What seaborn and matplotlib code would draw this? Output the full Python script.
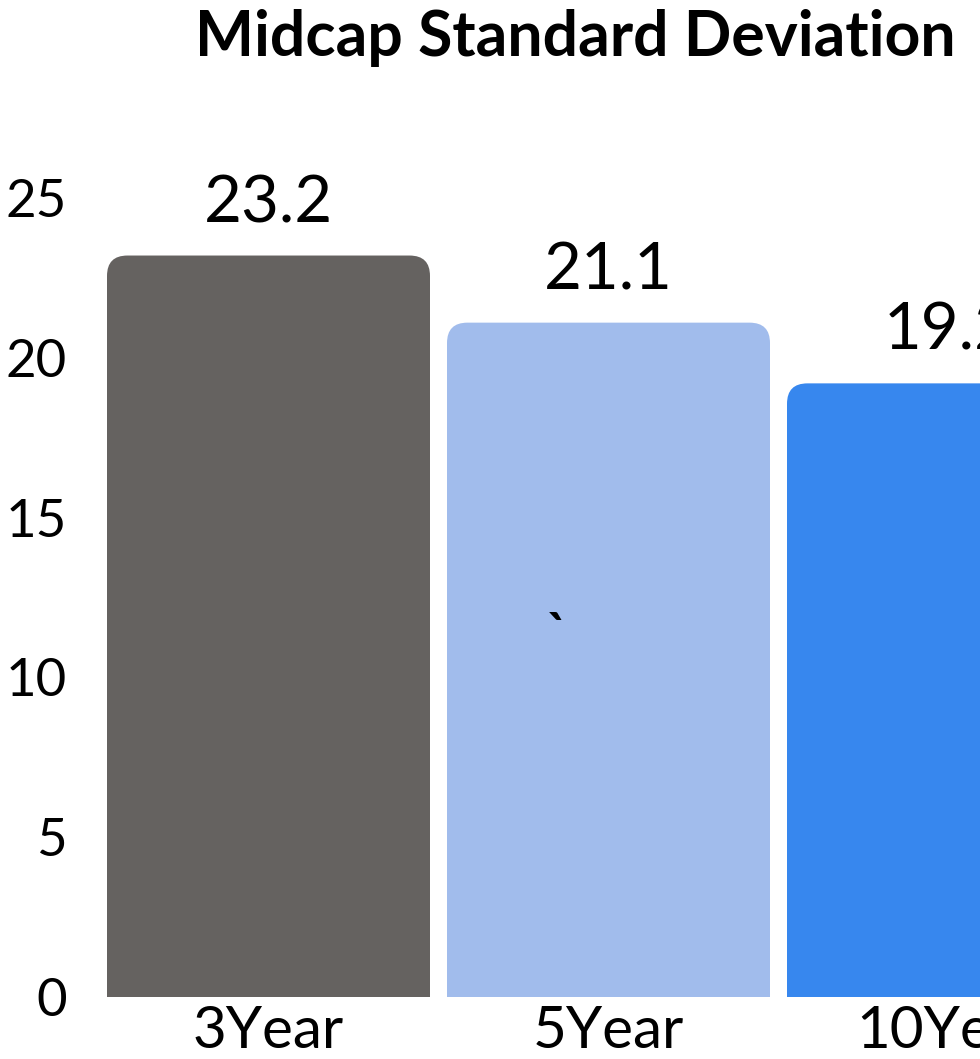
import numpy as np
import pandas as pd
import matplotlib.pyplot as plt
import seaborn as sns
from matplotlib.patches import FancyBboxPatch

periods = ["3Year", "5Year", "10Year"]
std_dev = [23.2, 21.1, 19.2]
bar_colors = ["#656260", "#a1bcec", "#3787ee"]
y_ticks = [0, 5, 10, 15, 20, 25]

df = pd.DataFrame({"period": periods, "std": std_dev})

sns.set_style("white")
plt.rcParams['font.family'] = ['Lato', 'DejaVu Sans']
plt.rcParams['text.color'] = 'black'
plt.rcParams['xtick.color'] = 'black'
plt.rcParams['ytick.color'] = 'black'

fig = plt.figure(figsize=(9.8, 10.59), dpi=100)
# axes runs past the right edge so the last bar gets cut like the reference
ax = fig.add_axes([107 / 980, 62 / 1059, 1003 / 980, 799 / 1059])

sns.barplot(data=df, x="period", y="std", hue="period", palette=bar_colors,
            saturation=1, width=0.95, legend=False, ax=ax)

# swap plain bars for ones with rounded tops
for p in list(ax.patches):
    x0, w, h = p.get_x(), p.get_width(), p.get_height()
    fc = p.get_facecolor()
    p.set_visible(False)
    r = 0.06
    rb = FancyBboxPatch((x0 + r, -2), w - 2 * r, h + 2 - r * 10.64,
                        boxstyle=f"round,pad={r}", mutation_aspect=10.64,
                        facecolor=fc, edgecolor="none")
    ax.add_patch(rb)
    ax.text(x0 + w / 2, h + 0.7, f"{h:.1f}", ha="center", va="bottom",
            fontsize=47, clip_on=False)

ax.set_xlim(-0.475, 2.475)
ax.set_ylim(0, 25)
ax.set_yticks(y_ticks)
ax.tick_params(axis="y", labelsize=38, length=0, pad=29)
ax.tick_params(axis="x", labelsize=42, length=0, pad=6)
ax.set_xlabel("")
ax.set_ylabel("")
sns.despine(ax=ax, left=True, bottom=True)

ax.text(0.85, 11.3, "`", ha="center", va="center", fontsize=38,
        fontweight="bold")

fig.text(575 / 980, 1 - 38 / 1059, "Midcap Standard Deviation", ha="center",
         va="center", fontsize=45, fontweight="bold")

fig.savefig("out.png", dpi=100)
